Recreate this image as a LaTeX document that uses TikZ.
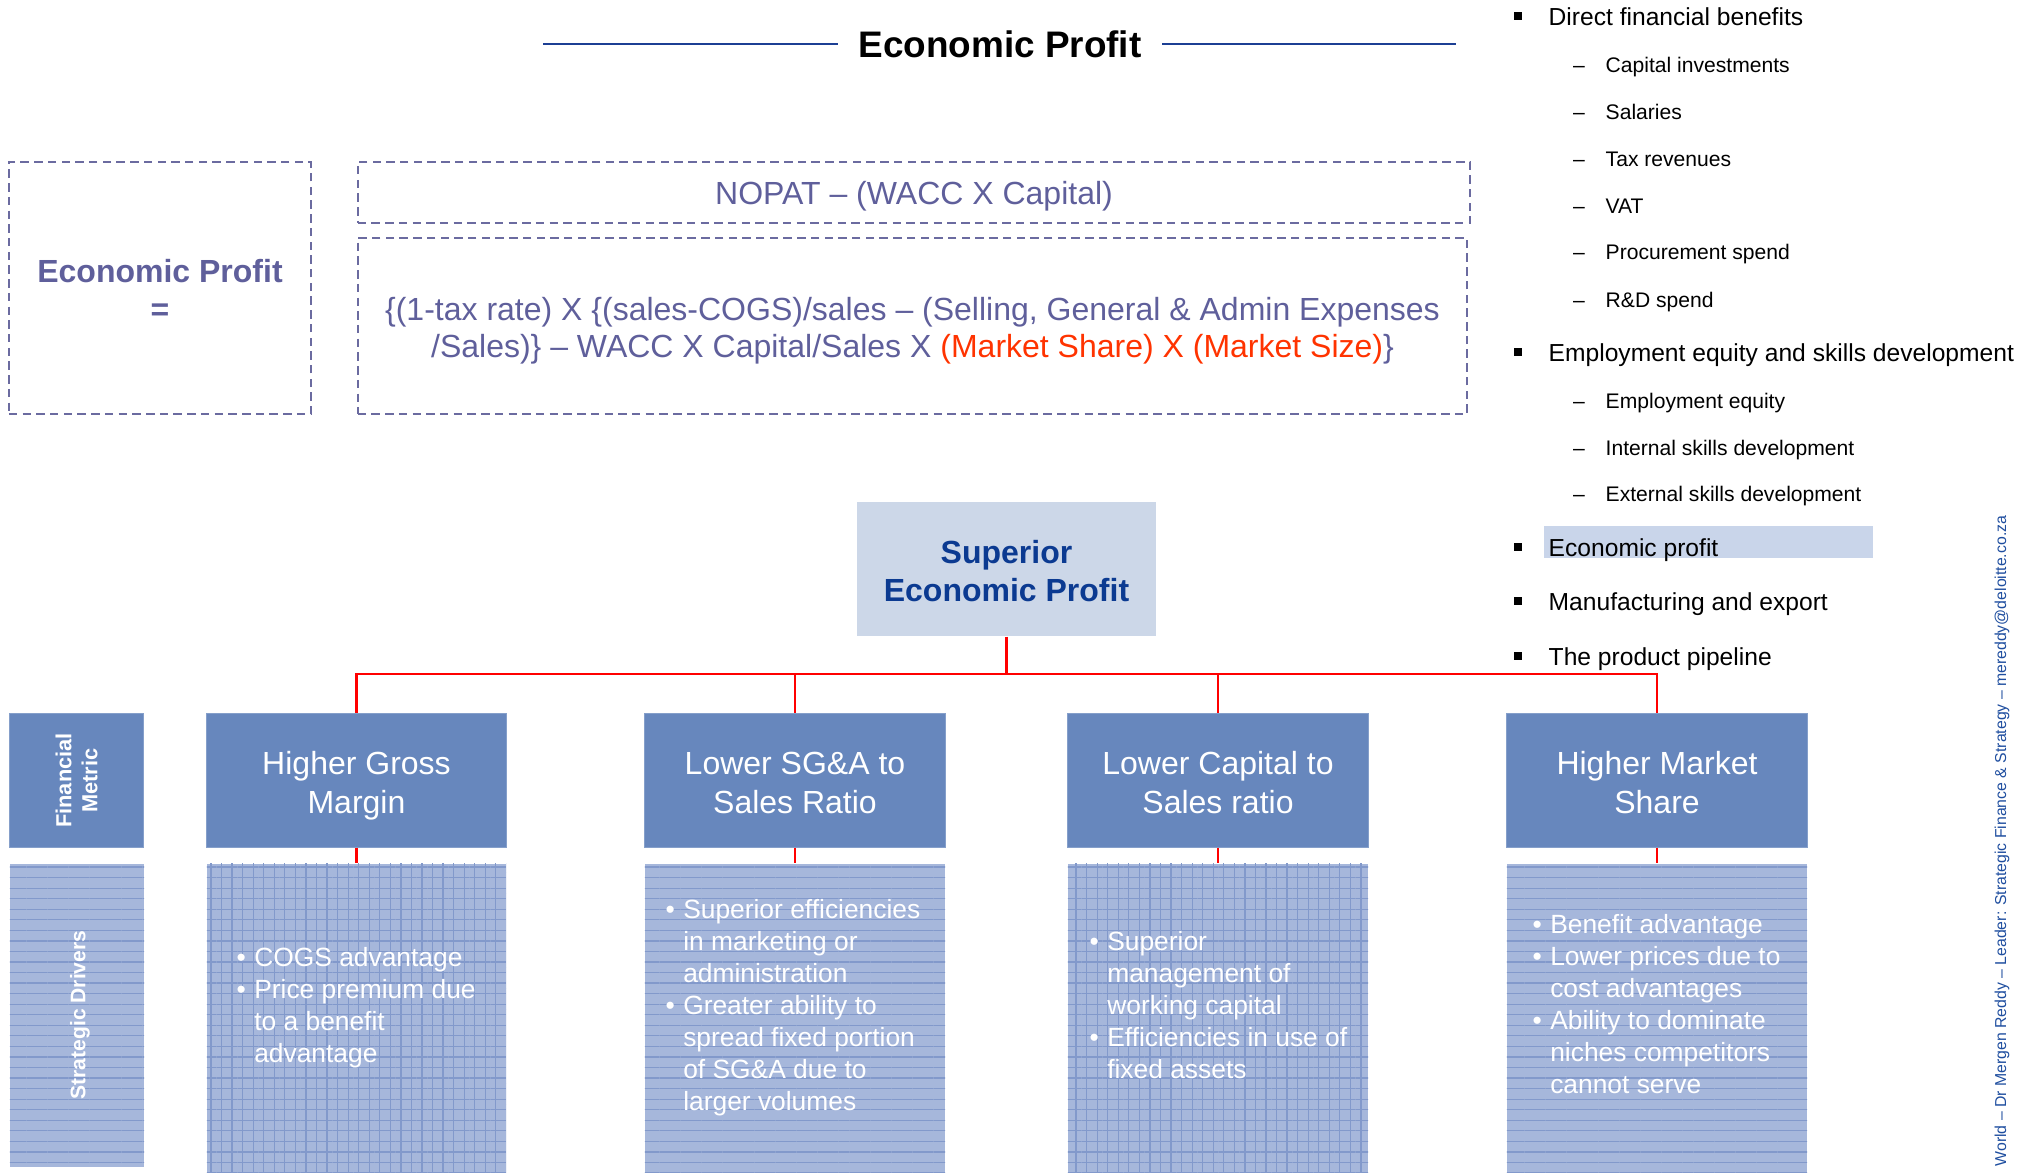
\documentclass[tikz,border=0pt]{standalone}
\usepackage{fontspec}
\setmainfont{Liberation Sans}
\usetikzlibrary{patterns.meta}
\definecolor{slate}{HTML}{5F5F9B}
\definecolor{dashcol}{HTML}{6B6BA0}
\definecolor{formred}{HTML}{FF3300}
\definecolor{titleblue}{HTML}{1C3F94}
\definecolor{supfill}{HTML}{CCD7E8}
\definecolor{supblue}{HTML}{0B3A91}
\definecolor{metfill}{HTML}{6787BD}
\definecolor{drvfill}{HTML}{A6B7DB}
\definecolor{patcol}{HTML}{8299CB}
\definecolor{hlfill}{HTML}{C9D5EA}
\definecolor{vtblue}{HTML}{1F4E9F}
\newcommand{\mybul}{\makebox[5pt][l]{•}}
\newcommand{\myind}{\hspace*{5pt}}
\begin{document}
\begin{tikzpicture}[x=0.01cm,y=-0.01cm,
  dbox/.style={draw=dashcol,line width=0.6pt,dash pattern=on 2.4pt off 1.5pt,inner sep=0pt},
  boxtext/.style={inner sep=0pt,align=center,text=slate},
  metbox/.style={fill=metfill,draw=metfill!80!white,line width=0.3pt,inner sep=0pt},
  mettext/.style={inner sep=0pt,text=white,align=center,font=\fontsize{9.1}{11.1}\selectfont},
  drvh/.style={preaction={fill=drvfill},pattern={Lines[angle=0,distance=3pt,line width=0.35pt]},pattern color=patcol,inner sep=0pt},
  drvg/.style={preaction={fill=drvfill},pattern={Hatch[angle=0,distance=3pt,line width=0.35pt]},pattern color=patcol,inner sep=0pt},
  drvtext/.style={anchor=west,inner sep=0pt,align=left,text=white,font=\fontsize{7.5}{9.1}\selectfont},
  redline/.style={draw=red,line width=0.7pt},
  mainitem/.style={anchor=west,inner sep=0pt,text height=0.72em,text depth=0.2em,font=\fontsize{7}{8}\selectfont},
  subitem/.style={anchor=west,inner sep=0pt,text height=0.72em,text depth=0.2em,font=\fontsize{6}{7}\selectfont},
  subdash/.style={inner sep=0pt,text height=0.72em,text depth=0.2em,font=\fontsize{6}{7}\selectfont},
  sqbul/.style={fill=black,inner sep=0pt,minimum size=2.4pt}
]
\useasboundingbox (0,0) rectangle (2018,1173);

% title
\node[inner sep=0pt,font=\fontsize{10.5}{12}\selectfont\bfseries] (title) at (1000,44) {Economic Profit};
\draw[titleblue,line width=0.85pt] ([xshift=-0.2cm]title.west) -- ++(-295,0);
\draw[titleblue,line width=0.85pt] ([xshift=0.2cm]title.east) -- ++(294,0);

% formula boxes
\node[dbox,minimum width=3.02cm,minimum height=2.52cm] (eqL) at (160,288) {};
\node[boxtext,font=\fontsize{9.1}{11}\selectfont\bfseries] (eqLt) at (160,290) {Economic Profit\\=};
\node[dbox,minimum width=11.12cm,minimum height=0.61cm] (nopat) at (914,192.5) {};
\node[boxtext,font=\fontsize{9.1}{11}\selectfont] (nopatt) at (914,196) {NOPAT – (WACC X Capital)};
\node[dbox,minimum width=11.09cm,minimum height=1.76cm] (form) at (912.5,326) {};
\node[boxtext,font=\fontsize{9.1}{10.5}\selectfont] (formt) at (912.5,331)
  {\{(1-tax rate) X \{(sales-COGS)/sales – (Selling, General \& Admin Expenses\\
   /Sales)\} – WACC X Capital/Sales X \textcolor{formred}{(Market Share) X (Market Size)}\}};

% superior economic profit
\node[fill=supfill,inner sep=0pt,minimum width=2.99cm,minimum height=1.34cm] (sup) at (1006.5,569) {};
\node[inner sep=0pt,align=center,text=supblue,font=\fontsize{9.1}{10.8}\selectfont\bfseries] (supt) at (1006.5,571)
  {Superior\\Economic Profit};

% metric boxes
\node[metbox,minimum width=1.33cm,minimum height=1.33cm] (mfm) at (76.5,780.5) {};
\node[rotate=90,align=center,text=white,inner sep=0pt,
  font=\fontsize{6.2}{7.4}\selectfont\bfseries] (mfmt) at (mfm.center) {Financial\\Metric};
\node[metbox,minimum width=2.99cm,minimum height=1.33cm] (m1) at (356.5,780.5) {};
\node[metbox,minimum width=3.00cm,minimum height=1.33cm] (m2) at (795,780.5) {};
\node[metbox,minimum width=3.00cm,minimum height=1.33cm] (m3) at (1218,780.5) {};
\node[metbox,minimum width=3.00cm,minimum height=1.33cm] (m4) at (1657,780.5) {};
\node[mettext,yshift=-0.05cm] (m1t) at (m1.center) {Higher Gross\\Margin};
\node[mettext,yshift=-0.025cm] (m2t) at (m2.center) {Lower SG\&A to\\Sales Ratio};
\node[mettext,yshift=-0.025cm] (m3t) at (m3.center) {Lower Capital to\\Sales ratio};
\node[mettext,yshift=-0.025cm] (m4t) at (m4.center) {Higher Market\\Share};

% driver boxes
\node[drvh,minimum width=1.34cm,minimum height=3.03cm] (dsd) at (77,1015.5) {};
\node[rotate=90,text=white,inner sep=0pt,font=\fontsize{6}{7}\selectfont\bfseries] (dsdt) at (80,1015) {Strategic Drivers};
\node[drvg,minimum width=2.99cm,minimum height=3.13cm] (d1) at (356.5,1020.5) {};
\node[drvh,minimum width=3.00cm,minimum height=3.13cm] (d2) at (795,1020.5) {};
\node[drvg,minimum width=3.00cm,minimum height=3.13cm] (d3) at (1218,1020.5) {};
\node[drvh,minimum width=3.00cm,minimum height=3.13cm] (d4) at (1657,1020.5) {};

\node[drvtext] (t1) at (236,1008) {\mybul COGS advantage\\\mybul Price premium due\\\myind to a benefit\\\myind advantage};
\node[drvtext] (t2) at (665,1008) {\mybul Superior efficiencies\\\myind in marketing or\\\myind administration\\\mybul Greater ability to\\\myind spread fixed portion\\\myind of SG\&A due to\\\myind larger volumes};
\node[drvtext] (t3) at (1089,1005) {\mybul Superior\\\myind management of\\\myind working capital\\\mybul Efficiencies in use of\\\myind fixed assets};
\node[drvtext] (t4) at (1532,1004) {\mybul Benefit advantage\\\mybul Lower prices due to\\\myind cost advantages\\\mybul Ability to dominate\\\myind niches competitors\\\myind cannot serve};

% red connectors
\coordinate (bus) at (0,674);
\draw[redline] (sup.south) -- (sup.south |- bus) -| (m1.north);
\draw[redline] (sup.south |- bus) -| (m2.north);
\draw[redline] (sup.south |- bus) -| (m3.north);
\draw[redline] (sup.south |- bus) -| (m4.north);
\draw[redline] (m1.south) -- (d1.north);
\draw[redline] (m2.south) -- (d2.north);
\draw[redline] (m3.south) -- (d3.north);
\draw[redline] (m4.south) -- (d4.north);

% right list
\node[fill=hlfill,inner sep=0pt,minimum width=3.28cm,minimum height=0.31cm] (hl) at (1708.5,542) {};
\node[sqbul] (b1) at (1518,16) {};
\node[mainitem] (i1) at (1548,16) {Direct financial benefits};
\node[subdash] (s1d) at (1579,63) {–};  \node[subitem] (s1) at (1605,63) {Capital investments};
\node[subdash] (s2d) at (1579,110) {–}; \node[subitem] (s2) at (1605,110) {Salaries};
\node[subdash] (s3d) at (1579,157) {–}; \node[subitem] (s3) at (1605,157) {Tax revenues};
\node[subdash] (s4d) at (1579,204) {–}; \node[subitem] (s4) at (1605,204) {VAT};
\node[subdash] (s5d) at (1579,250) {–}; \node[subitem] (s5) at (1605,250) {Procurement spend};
\node[subdash] (s6d) at (1579,298) {–}; \node[subitem] (s6) at (1605,298) {R\&D spend};
\node[sqbul] (b2) at (1518,352) {};
\node[mainitem] (i2) at (1548,352) {Employment equity and skills development};
\node[subdash] (s7d) at (1579,399) {–}; \node[subitem] (s7) at (1605,399) {Employment equity};
\node[subdash] (s8d) at (1579,446) {–}; \node[subitem] (s8) at (1605,446) {Internal skills development};
\node[subdash] (s9d) at (1579,492) {–}; \node[subitem] (s9) at (1605,492) {External skills development};
\node[sqbul] (b3) at (1518,547) {};
\node[mainitem] (i3) at (1548,547) {Economic profit};
\node[sqbul] (b4) at (1518,601) {};
\node[mainitem] (i4) at (1548,601) {Manufacturing and export};
\node[sqbul] (b5) at (1518,656) {};
\node[mainitem] (i5) at (1548,656) {The product pipeline};

% vertical footer text
\node[rotate=90,anchor=south east,inner sep=0pt,text=vtblue,font=\fontsize{4.5}{5.2}\selectfont] (vt) at (2010,515)
  {World – Dr Mergen Reddy – Leader: Strategic Finance \& Strategy – mereddy@deloitte.co.za};
\end{tikzpicture}
\end{document}
